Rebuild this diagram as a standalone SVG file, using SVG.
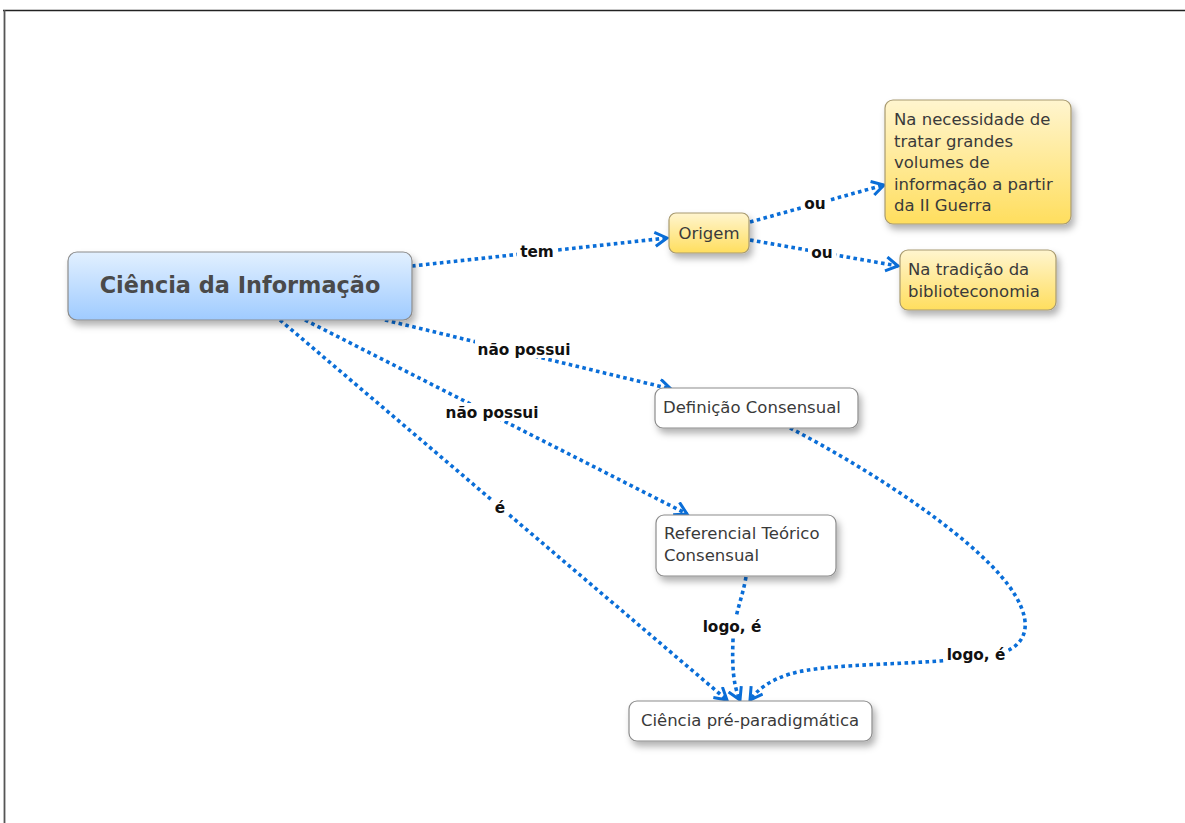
<svg xmlns="http://www.w3.org/2000/svg" width="1185" height="823" viewBox="0 0 1185 823">
  <defs>
    <linearGradient id="gBlue" x1="0" y1="0" x2="0" y2="1">
      <stop offset="0" stop-color="#e2f0ff"/>
      <stop offset="1" stop-color="#9fcbff"/>
    </linearGradient>
    <linearGradient id="gYellow" x1="0" y1="0" x2="0" y2="1">
      <stop offset="0" stop-color="#fff5cf"/>
      <stop offset="1" stop-color="#ffde5e"/>
    </linearGradient>
    <filter id="shadow" x="-10%" y="-20%" width="130%" height="160%">
      <feDropShadow dx="3" dy="5" stdDeviation="3.5" flood-color="#000" flood-opacity="0.3"/>
    </filter>
    <marker id="arrow" markerUnits="userSpaceOnUse" markerWidth="20" markerHeight="20" refX="13" refY="8" orient="auto">
      <path d="M1,1 L13,8 L1,15" fill="none" stroke="#0a6ed8" stroke-width="3" stroke-linejoin="miter" stroke-dasharray="none"/>
    </marker>
  </defs>
  <style>
    .node rect { stroke: #8c8c8c; stroke-width: 1.2; filter: url(#shadow); }
    .white rect { fill: #ffffff; }
    .yellow rect { fill: url(#gYellow); stroke: #a89a70; }
    .ntext { font-family: "DejaVu Sans", "Verdana", sans-serif; font-size: 16.5px; fill: #3a3a3a; }
    .big { font-family: "DejaVu Sans", "Verdana", sans-serif; font-size: 22.4px; font-weight: bold; fill: #4a4a4a; }
    .edge { fill: none; stroke: #0a6ed8; stroke-width: 3.6; stroke-dasharray: 3.6 3.4; marker-end: url(#arrow); }
    .lbl { font-family: "DejaVu Sans", "Verdana", sans-serif; font-size: 15.3px; font-weight: bold; fill: #111111; text-anchor: middle; }
    .lblbg { fill: #ffffff; }
  </style>

  <rect width="1185" height="823" fill="#ffffff"/>
  <!-- page frame -->
  <line x1="3" y1="10.5" x2="1185" y2="10.5" stroke="#222" stroke-width="1.3"/>
  <line x1="4.5" y1="10" x2="4.5" y2="823" stroke="#555" stroke-width="1.8"/>

  <!-- connectors -->
  <g id="connectors">
    <path class="edge" d="M412,266 L667,238"/>
    <path class="edge" d="M750,222 L884,185"/>
    <path class="edge" d="M750,240 L898,266"/>
    <path class="edge" d="M385,320 L671,389"/>
    <path class="edge" d="M305,320 L687,514"/>
    <path class="edge" d="M280,320 L727,700"/>
    <path class="edge" d="M746,577 C742,600 734,615 733,640 C732,665 733,685 740,700"/>
    <path class="edge" d="M790,428 C880,475 985,545 1015,595 C1035,628 1025,650 990,656 C920,666 830,662 790,674 C770,680 757,690 750,700"/>

    <g id="edge-labels">
      <rect class="lblbg" x="517" y="242" width="40" height="18"/>
      <text class="lbl" x="537" y="257">tem</text>
      <rect class="lblbg" x="801" y="195" width="28" height="17"/>
      <text class="lbl" x="815" y="209">ou</text>
      <rect class="lblbg" x="808" y="244" width="28" height="17"/>
      <text class="lbl" x="822" y="258">ou</text>
      <rect class="lblbg" x="475" y="340" width="99" height="18"/>
      <text class="lbl" x="524" y="355">não possui</text>
      <rect class="lblbg" x="443" y="403" width="99" height="18"/>
      <text class="lbl" x="492" y="418">não possui</text>
      <rect class="lblbg" x="492" y="498" width="16" height="18"/>
      <text class="lbl" x="500" y="513">é</text>
      <rect class="lblbg" x="699" y="617" width="66" height="20"/>
      <text class="lbl" x="732" y="632">logo, é</text>
      <rect class="lblbg" x="944" y="645" width="64" height="20"/>
      <text class="lbl" x="976" y="660">logo, é</text>
    </g>
  </g>

  <!-- nodes -->
  <g id="n-ciencia-informacao" class="node">
    <rect x="68" y="252" width="344" height="68" rx="9" fill="url(#gBlue)"/>
    <text class="big" x="240" y="293" text-anchor="middle">Ciência da Informação</text>
  </g>

  <g id="n-origem" class="node yellow">
    <rect x="669" y="213" width="80" height="40" rx="7"/>
    <text class="ntext" x="709" y="239" text-anchor="middle">Origem</text>
  </g>

  <g id="n-necessidade" class="node yellow">
    <rect x="885" y="100" width="186" height="124" rx="8"/>
    <text class="ntext" x="894" y="125">Na necessidade de</text>
    <text class="ntext" x="894" y="147">tratar grandes</text>
    <text class="ntext" x="894" y="168">volumes de</text>
    <text class="ntext" x="894" y="190">informação a partir</text>
    <text class="ntext" x="894" y="211">da II Guerra</text>
  </g>

  <g id="n-tradicao" class="node yellow">
    <rect x="900" y="250" width="156" height="60" rx="8"/>
    <text class="ntext" x="908" y="275">Na tradição da</text>
    <text class="ntext" x="908" y="297">biblioteconomia</text>
  </g>

  <g id="n-definicao" class="node white">
    <rect x="655" y="388" width="203" height="40" rx="8"/>
    <text class="ntext" x="663" y="413">Definição Consensual</text>
  </g>

  <g id="n-referencial" class="node white">
    <rect x="656" y="515" width="180" height="61" rx="8"/>
    <text class="ntext" x="664" y="539">Referencial Teórico</text>
    <text class="ntext" x="664" y="561">Consensual</text>
  </g>

  <g id="n-pre-paradigmatica" class="node white">
    <rect x="629" y="701" width="243" height="40" rx="8"/>
    <text class="ntext" x="750" y="726" text-anchor="middle">Ciência pré-paradigmática</text>
  </g>
</svg>
